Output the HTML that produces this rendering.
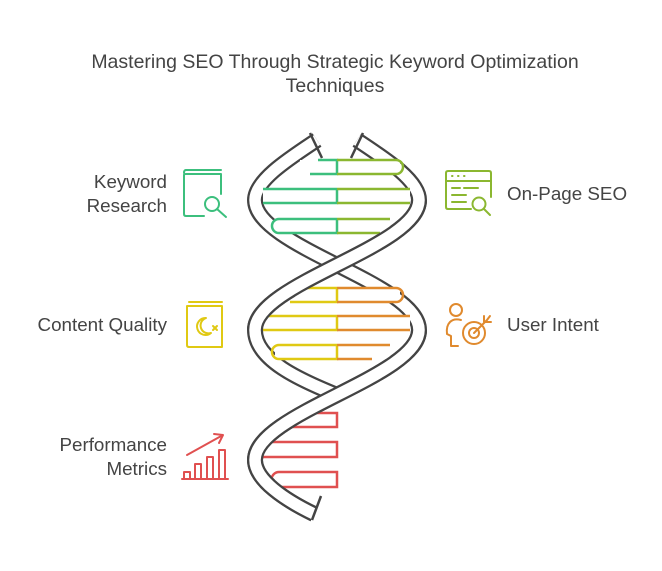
<!DOCTYPE html>
<html><head><meta charset="utf-8"><style>
html,body{margin:0;padding:0;background:#fff;width:662px;height:571px;overflow:hidden}
svg{display:block}
text{font-family:"Liberation Sans",sans-serif;fill:#444}
</style></head><body>
<svg width="662" height="571" viewBox="0 0 662 571" xmlns="http://www.w3.org/2000/svg">
<text x="335" y="68" font-size="19.5" text-anchor="middle">Mastering SEO Through Strategic Keyword Optimization</text>
<text x="335" y="92" font-size="19.5" text-anchor="middle">Techniques</text>

<g font-size="18.8">
<text x="167" y="188" text-anchor="end">Keyword</text>
<text x="167" y="212" text-anchor="end">Research</text>
<text x="167" y="331" text-anchor="end">Content Quality</text>
<text x="167" y="451" text-anchor="end">Performance</text>
<text x="167" y="475" text-anchor="end">Metrics</text>
<text x="507" y="200">On-Page SEO</text>
<text x="507" y="331">User Intent</text>
</g>

<!-- strands (back) -->
<g fill="none" stroke-linecap="butt">
<path d="M317,140 C290,158 255,180 255,200 C255,247 419,283 419,330 C419,377 255,413 255,460 C255,480 285,500 314,514" stroke="#444" stroke-width="16"/>
<path d="M317,140 C290,158 255,180 255,200 C255,247 419,283 419,330 C419,377 255,413 255,460 C255,480 285,500 314,514" stroke="#fff" stroke-width="11.5"/>
<path d="M357,140 C384,158 419,180 419,200 C419,247 255,283 255,330 C255,360 300,380 337,395" stroke="#444" stroke-width="16"/>
<path d="M357,140 C384,158 419,180 419,200 C419,247 255,283 255,330 C255,360 300,380 337,395" stroke="#fff" stroke-width="11.5"/>
</g>

<!-- rung fills -->
<g fill="#fff">
<rect x="300" y="160" width="100" height="14"/>
<rect x="263" y="189" width="147" height="14"/>
<rect x="275" y="219" width="115" height="14"/>
<rect x="295" y="288" width="105" height="14"/>
<rect x="263" y="316" width="147" height="14"/>
<rect x="275" y="345" width="115" height="14"/>
<rect x="295" y="413" width="42" height="14"/>
<rect x="263" y="442" width="74" height="15"/>
<rect x="275" y="472" width="62" height="15"/>
</g>

<!-- rungs -->
<g fill="none" stroke-width="2.5">
<path d="M318,160 H337 V174 H310" stroke="#3cbf7d"/>
<path d="M337,160 H396 A7,7 0 0 1 396,174 H337" stroke="#8bb730"/>
<path d="M337,189 H263 M263,203 H337 V189" stroke="#3cbf7d"/>
<path d="M337,189 H410 M410,203 H337" stroke="#8bb730"/>
<path d="M337,219 H279 A7,7 0 0 0 279,233 H337 V219" stroke="#3cbf7d"/>
<path d="M337,219 H390 M380,233 H337" stroke="#8bb730"/>
<path d="M337,288 H300 M290,302 H337 V288" stroke="#e0c913"/>
<path d="M337,288 H396 A7,7 0 0 1 396,302 H337" stroke="#e08a2e"/>
<path d="M337,316 H263 M263,330 H337 V316" stroke="#e0c913"/>
<path d="M337,316 H410 M410,330 H337" stroke="#e08a2e"/>
<path d="M337,345 H279 A7,7 0 0 0 279,359 H337 V345" stroke="#e0c913"/>
<path d="M337,345 H390 M372,359 H337" stroke="#e08a2e"/>
<path d="M300,413 H337 V427 H290" stroke="#e05050"/>
<path d="M263,442 H337 V457 H263" stroke="#e05050"/>
<path d="M337,472 H279 A7.5,7.5 0 0 0 279,487 H337 Z" stroke="#e05050"/>
</g>

<!-- front crossing segments -->
<g fill="none">
<path d="M419,200 C419,247 255,283 255,330" stroke="#444" stroke-width="16"/>
<path d="M419,200 C419,247 255,283 255,330" stroke="#fff" stroke-width="11.5"/>
<path d="M419,330 C419,377 255,413 255,460 C255,480 285,500 314,514" stroke="#444" stroke-width="16"/>
<path d="M419,330 C419,377 255,413 255,460 C255,480 285,500 314,514" stroke="#fff" stroke-width="11.5"/>
<path d="M310,133 L322,158" stroke="#444" stroke-width="2.5"/>
<path d="M363,133 L351,158" stroke="#444" stroke-width="2.5"/>
<path d="M321,496 L312,520" stroke="#444" stroke-width="2.5"/>
</g>

<!-- icons -->
<g fill="none" stroke-width="2" stroke-linecap="round" stroke-linejoin="round">
<g stroke="#3cbf7d">
<path d="M186,170 H221 M184,175 V214 Q184,216 186,216 H204 M184,175 Q184,174 186,174 H221 V194"/>
<path d="M186,170 Q184,170 184,173"/>
<circle cx="212" cy="204" r="7"/>
<path d="M217,209 L226,217"/>
</g>
<g stroke="#e0c913">
<path d="M189,302 H222 M187,306 H222 V347 H189 Q187,347 187,345 V306"/>
<path d="M206,318 A8.5,8.5 0 1 0 211,333 A6,6 0 1 1 206,318 Z"/>
<path d="M213,326 L217,330 M217,326 L213,330"/>
</g>
<g stroke="#e05050">
<path d="M182,479 H228"/>
<rect x="184" y="472" width="6" height="7"/>
<rect x="195" y="464" width="6" height="15"/>
<rect x="207" y="457" width="6" height="22"/>
<rect x="219" y="450" width="6" height="29"/>
<path d="M187,455 L223,435 M214,434 L223,435 L219,443"/>
</g>
<g stroke="#8bb730">
<path d="M471,209 H448 Q446,209 446,207 V173 Q446,171 448,171 H489 Q491,171 491,173 V197"/>
<path d="M446,181 H491"/>
<path d="M452,176 h0.5 M458,176 h0.5 M464,176 h0.5"/>
<path d="M452,188 h8 M464,188 h14 M452,195 h14 M452,202 h14"/>
<circle cx="479" cy="204" r="6.5"/>
<path d="M484,209 L490,215"/>
</g>
<g stroke="#e08a2e">
<circle cx="456" cy="310" r="6"/>
<path d="M461,320 Q454,318 450,322 Q446,326 447,334 L451,336 V346 H458"/>
<circle cx="474" cy="333" r="11"/>
<circle cx="474" cy="333" r="5"/>
<path d="M474,333 L487,320 M484,316 V322 H491 M487,320 L490,316"/>
</g>
</g>
</svg>
</body></html>
